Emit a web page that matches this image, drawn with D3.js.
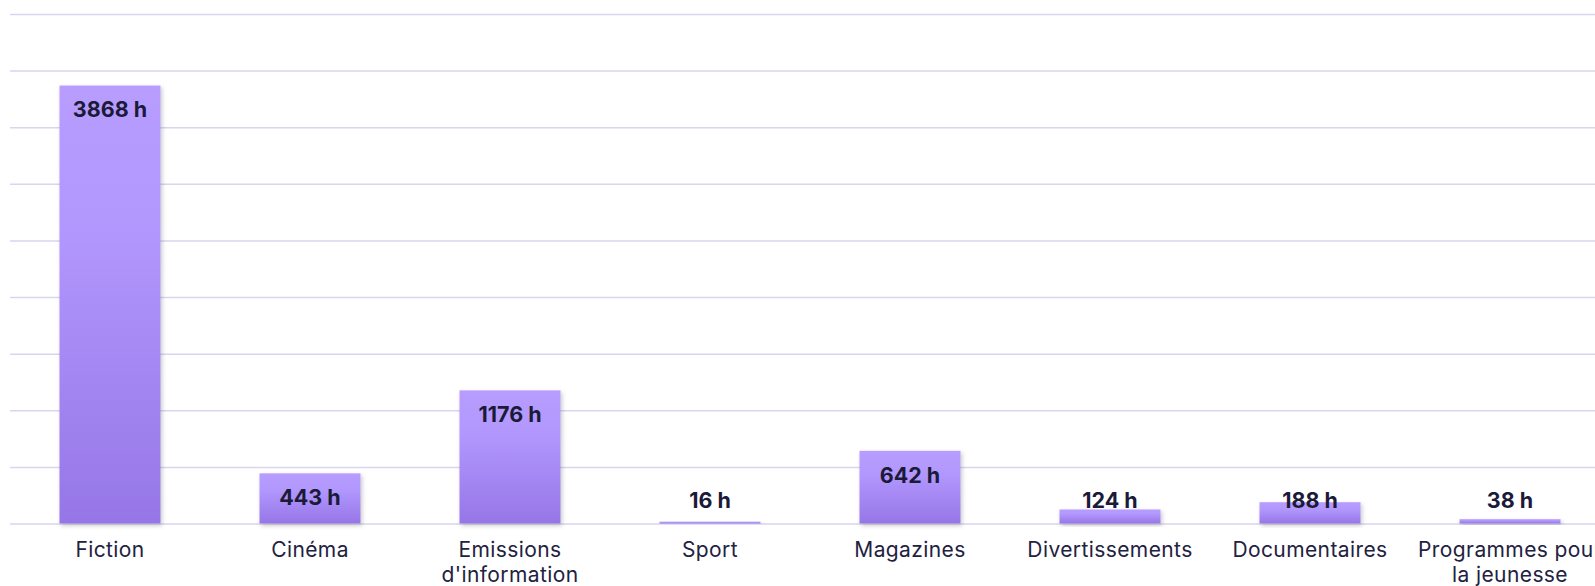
<!DOCTYPE html>
<html><head><meta charset="utf-8">
<script src="https://cdn.jsdelivr.net/npm/d3@7/dist/d3.min.js"></script>
<style>
html,body{margin:0;padding:0;background:#fff;overflow:hidden;}
svg{display:block;}
</style></head>
<body>
<svg id="c" width="1595" height="586"></svg>
<script>
const categories = ["Fiction","Cinéma","Emissions d'information","Sport","Magazines","Divertissements","Documentaires","Programmes pour la jeunesse"];
const labelLines = [["Fiction"],["Cinéma"],["Emissions","d'information"],["Sport"],["Magazines"],["Divertissements"],["Documentaires"],["Programmes pour","la jeunesse"]];
const values = [3868,443,1176,16,642,124,188,38];
const yTicks = [0,500,1000,1500,2000,2500,3000,3500,4000,4500];

const svg = d3.select("#c");
const left = 10, baseY = 523.5, topY = 14;
const x = d3.scaleBand().domain(categories).range([left, left + 200*categories.length]).paddingInner(0.495).paddingOuter(0.2475);
const y = d3.scaleLinear().domain([0,4500]).range([baseY, topY]);

const defs = svg.append("defs");
const g = defs.append("linearGradient").attr("id","bg").attr("x1",0).attr("y1",0).attr("x2",0).attr("y2",1);
g.append("stop").attr("offset","0%").attr("stop-color","#b89dff");
g.append("stop").attr("offset","35%").attr("stop-color","#b196fd");
g.append("stop").attr("offset","100%").attr("stop-color","#9676e6");
const f = defs.append("filter").attr("id","sh").attr("x","-20%").attr("y","-20%").attr("width","140%").attr("height","140%");
f.append("feDropShadow").attr("dx",1.5).attr("dy",2).attr("stdDeviation",2).attr("flood-color","#000").attr("flood-opacity",0.22);

// grid
const grid = svg.append("g").call(d3.axisLeft(y).tickValues(yTicks).tickSize(-(1595-left)).tickFormat(""))
  .attr("transform",`translate(${left},0)`);
grid.select(".domain").remove();
grid.selectAll(".tick line").attr("stroke","#d8d5ee").attr("stroke-width",1.5);

// bars
svg.append("g").selectAll("rect").data(values).join("rect")
  .attr("x",(d,i)=>x(categories[i]))
  .attr("width",x.bandwidth())
  .attr("y",d=>y(d))
  .attr("height",d=>baseY-y(d))
  .attr("fill","url(#bg)")
  .attr("filter","url(#sh)");

// value labels
svg.append("g").selectAll("text").data(values).join("text")
  .attr("x",(d,i)=>x(categories[i])+x.bandwidth()/2)
  .attr("y",d=>Math.min(y(d)+24, baseY-23.5))
  .attr("dy","0.36em")
  .attr("text-anchor","middle")
  .attr("font-family","Inter, 'Noto Sans', sans-serif")
  .attr("font-weight",700)
  .attr("font-size",21.5)
  .attr("fill","#1b1a38")
  .text(d=>d+" h");

// category labels
const xa = svg.append("g").attr("transform",`translate(0,${baseY})`).call(d3.axisBottom(x).tickSize(0).tickFormat(""));
xa.select(".domain").remove();
xa.selectAll(".tick").each(function(d,i){
  const t = d3.select(this).append("text")
    .attr("text-anchor","middle")
    .attr("font-family","Inter, 'Noto Sans', sans-serif")
    .attr("font-size",21)
    .attr("letter-spacing",0.4)
    .attr("fill","#22213f");
  labelLines[i].forEach((ln,j)=>{
    t.append("tspan").attr("x",0).attr("y",26+j*25).attr("dy","0.36em").text(ln);
  });
});
</script>
</body></html>
